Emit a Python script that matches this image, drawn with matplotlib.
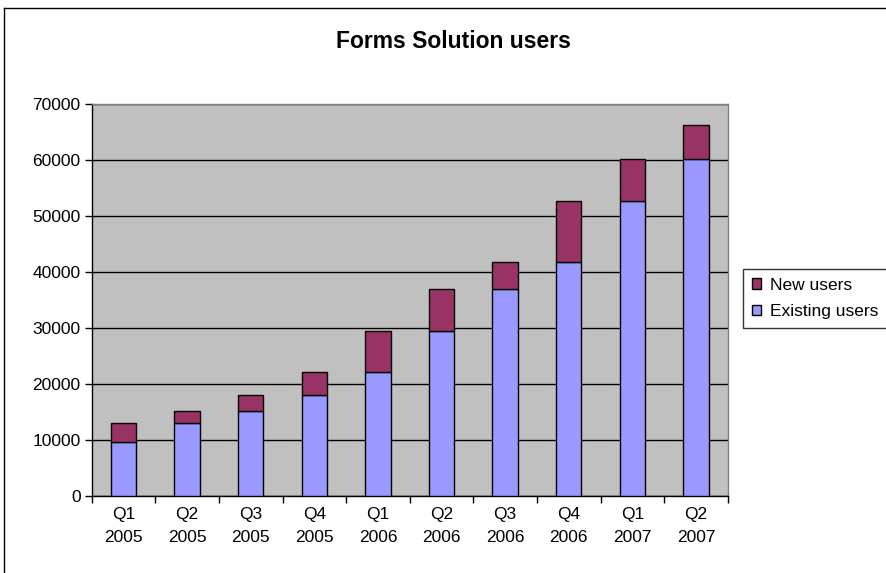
import matplotlib
matplotlib.use("Agg")
import matplotlib.pyplot as plt
from matplotlib.lines import Line2D
import numpy as np

plt.rcParams['font.family'] = ['Liberation Sans', 'DejaVu Sans']

categories = ["Q1\n2005", "Q2\n2005", "Q3\n2005", "Q4\n2005", "Q1\n2006",
              "Q2\n2006", "Q3\n2006", "Q4\n2006", "Q1\n2007", "Q2\n2007"]
existing_users = [9700, 13000, 15100, 18000, 22100, 29500, 37000, 41700, 52700, 60200]
new_users = [3300, 2100, 2900, 4100, 7400, 7500, 4700, 11000, 7500, 6100]
yticks = [0, 10000, 20000, 30000, 40000, 50000, 60000, 70000]

W, H = 887, 573
fig = plt.figure(figsize=(W / 100, H / 100), dpi=100)
fig.patch.set_facecolor('white')

# outer chart border (left and top edges visible)
fig.lines.append(Line2D([4.5 / W, 4.5 / W], [0, 1 - 7.5 / H], transform=fig.transFigure,
                        color='black', linewidth=1.0))
fig.lines.append(Line2D([4.5 / W, 1], [1 - 7.5 / H, 1 - 7.5 / H], transform=fig.transFigure,
                        color='black', linewidth=1.0))

ax = fig.add_axes([91.7 / W, 1 - 496 / H, (727.7 - 91.7) / W, (496 - 104) / H])
ax.set_facecolor('#C0C0C0')

x = np.arange(len(categories))
ax.bar(x, existing_users, width=0.4, color='#9999FF', edgecolor='black',
       linewidth=1.0, label='Existing users', zorder=3)
ax.bar(x, new_users, width=0.4, bottom=existing_users, color='#993366',
       edgecolor='black', linewidth=1.0, label='New users', zorder=3)

ax.set_xlim(-0.5, len(categories) - 0.5)
ax.set_ylim(0, 70000)
ax.set_yticks(yticks)
ax.set_yticklabels([str(v) for v in yticks], fontsize=12.5)
ax.yaxis.grid(True, color='black', linewidth=1.0, zorder=1)
ax.set_axisbelow(True)

ax.set_xticks(x)
ax.set_xticklabels(categories, fontsize=12.5, linespacing=1.65)
ax.tick_params(axis='x', which='major', length=0, pad=8)
ax.set_xticks(np.arange(-0.5, len(categories), 1.0), minor=True)
ax.tick_params(axis='x', which='minor', length=5, width=1, color='black', direction='out')
ax.tick_params(axis='y', length=5, width=1, color='black', direction='out', pad=3)

ax.spines['left'].set_color('black')
ax.spines['bottom'].set_color('black')
ax.spines['top'].set_color('#808080')
ax.spines['right'].set_color('#808080')
for s in ax.spines.values():
    s.set_linewidth(1.0)

fig.text(453 / W, 1 - 42 / H, "Forms Solution users", ha='center', va='center',
         fontsize=16.5, fontweight='bold')

handles, labels = ax.get_legend_handles_labels()
leg = fig.legend(handles[::-1], labels[::-1], loc='upper left',
                 bbox_to_anchor=(743 / W, 1 - 269 / H), fontsize=12.5,
                 frameon=True, fancybox=False, handlelength=0.55, handleheight=0.55,
                 handletextpad=0.5, borderpad=0.5, labelspacing=0.65,
                 borderaxespad=0)
leg.get_frame().set_edgecolor('black')
leg.get_frame().set_linewidth(1.0)

fig.savefig('out.png', dpi=100)
